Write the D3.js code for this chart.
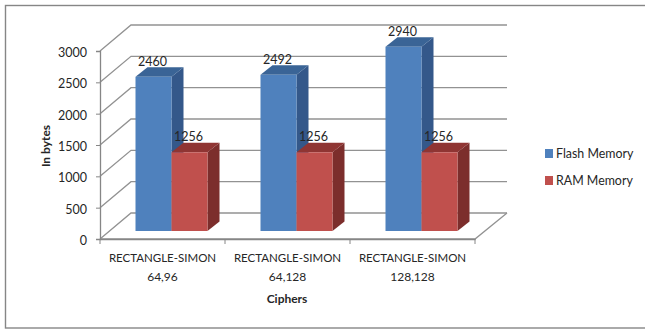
<!DOCTYPE html>
<html>
<head>
<meta charset="utf-8">
<script src="https://cdn.jsdelivr.net/npm/d3@7/dist/d3.min.js"></script>
<style>
html, body { margin: 0; padding: 0; background: #fff; overflow: hidden; }
svg { display: block; }
text { font-family: Lato, "Open Sans", sans-serif; fill: #262626; }
</style>
</head>
<body>
<svg id="chart" width="645" height="330"></svg>
<script>
// Memory footprint of the cipher variants
const categories = ["64,96", "64,128", "128,128"];
const categoryPrefix = "RECTANGLE-SIMON";
const flashValues = [2460, 2492, 2940];
const ramValues = [1256, 1256, 1256];
const seriesNames = ["Flash Memory", "RAM Memory"];
const yTicks = [0, 500, 1000, 1500, 2000, 2500, 3000];

const svg = d3.select("#chart");

// Projection of the 3D box: floor depth and bar depth, as screen offsets
const wallDx = 31, wallDy = -26;
const barDx = 12, barDy = -9.5;
const barFloorDy = -8;

const x = d3.scaleBand().domain(categories).range([100, 475]);
const y = d3.scaleLinear().domain([0, 3000]).range([239, 51]);
const inner = d3.scaleBand().domain(seriesNames).range([35.5, 107.5]);

const palette = {
  "Flash Memory": { front: "#4f81bd", side: "#34588a", top: "#3a6496" },
  "RAM Memory": { front: "#c0504d", side: "#7c2e2c", top: "#8f3533" }
};

// Outer frame; its right side runs past the canvas edge
svg.append("rect")
  .attr("x", 5.5).attr("y", 5.5)
  .attr("width", 660).attr("height", 322.5)
  .attr("fill", "#fff").attr("stroke", "#868686").attr("stroke-width", 1.4);

// Back wall gridlines with their diagonal returns along the side wall
const grid = svg.append("g").attr("fill", "none").attr("stroke", "#929292").attr("stroke-width", 1.3);
yTicks.forEach(t => {
  const line = d3.line()([
    [x.range()[0], y(t)],
    [x.range()[0] + wallDx, y(t) + wallDy],
    [x.range()[1] + wallDx + 1, y(t) + wallDy]
  ]);
  grid.append("path").attr("d", line);
});

// Front floor edge and its diagonal return on the right
grid.append("path").attr("d", d3.line()([
  [x.range()[0], y(0)],
  [x.range()[1], y(0)],
  [x.range()[1] + wallDx + 1, y(0) + wallDy]
]));

// Axes
const yAxis = svg.append("g")
  .attr("transform", `translate(${x.range()[0]},0)`)
  .call(d3.axisLeft(y).tickValues(yTicks).tickSize(4).tickPadding(9).tickFormat(d3.format("d")));
const xAxis = svg.append("g")
  .attr("transform", `translate(0,${y(0)})`)
  .call(d3.axisBottom(x).tickSize(0).tickFormat(""));

[yAxis, xAxis].forEach(g => {
  g.selectAll(".domain").attr("stroke", "#868686").attr("stroke-width", 1.3);
  g.selectAll(".tick line").attr("stroke", "#868686");
});
yAxis.selectAll("text")
  .attr("font-size", 12.5)
  .attr("dy", "0.45em")
  .style("font-family", "Lato, sans-serif")
  .attr("fill", "#333");

// Category boundary ticks on the floor edge
svg.append("g").selectAll("line")
  .data([...categories.map(c => x(c)), x.range()[1]])
  .join("line")
  .attr("x1", d => d).attr("x2", d => d)
  .attr("y1", y(0)).attr("y2", y(0) + 5)
  .attr("stroke", "#868686");

// Category labels on two lines
const catLabels = svg.append("g").selectAll("text")
  .data(categories).join("text")
  .attr("text-anchor", "middle")
  .attr("font-size", 11.5)
  .attr("fill", "#333");
catLabels.append("tspan")
  .attr("x", d => x(d) + x.bandwidth() / 2).attr("y", 262)
  .text(categoryPrefix);
catLabels.append("tspan")
  .attr("x", d => x(d) + x.bandwidth() / 2).attr("y", 281)
  .attr("font-size", 12)
  .text(d => d);

// Three-faced bars
const rows = [
  { name: seriesNames[0], values: flashValues },
  { name: seriesNames[1], values: ramValues }
];
const baseY = y(0) + barFloorDy;
const bars = svg.append("g");
rows.forEach(s => {
  const c = palette[s.name];
  const w = inner.bandwidth();
  s.values.forEach((v, i) => {
    const x0 = x(categories[i]) + inner(s.name);
    const top = y(v) + barFloorDy;
    const g = bars.append("g");
    g.append("path").attr("fill", c.side).attr("d", d3.line()([
      [x0 + w, top], [x0 + w + barDx, top + barDy],
      [x0 + w + barDx, baseY + barDy], [x0 + w, baseY]
    ]) + "Z");
    g.append("path").attr("fill", c.top).attr("d", d3.line()([
      [x0, top], [x0 + barDx, top + barDy],
      [x0 + w + barDx, top + barDy], [x0 + w, top]
    ]) + "Z");
    g.append("rect").attr("fill", c.front)
      .attr("x", x0).attr("y", top)
      .attr("width", w).attr("height", baseY - top);
  });
});

// Value labels sit over the bar tops
const labels = svg.append("g").attr("text-anchor", "middle").attr("font-size", 12.5);
rows.forEach(s => {
  s.values.forEach((v, i) => {
    labels.append("text")
      .attr("x", x(categories[i]) + inner(s.name) + inner.bandwidth() / 2 - 1)
      .attr("y", y(v) + barFloorDy - 11)
      .attr("fill", "#222")
      .text(v);
  });
});

// Axis titles
svg.append("text")
  .attr("x", 287).attr("y", 303)
  .attr("text-anchor", "middle")
  .attr("font-size", 12).attr("font-weight", 700)
  .attr("fill", "#222")
  .text("Ciphers");
svg.append("text")
  .attr("transform", "translate(50,146) rotate(-90)")
  .attr("text-anchor", "middle")
  .attr("font-size", 12).attr("font-weight", 700)
  .attr("fill", "#222")
  .text("In bytes");

// Legend
const legend = svg.append("g").selectAll("g")
  .data(seriesNames).join("g")
  .attr("transform", (d, i) => `translate(545,${149 + i * 27})`);
legend.append("rect")
  .attr("width", 8).attr("height", 9)
  .attr("fill", d => palette[d].front);
legend.append("text")
  .attr("x", 11).attr("y", 9)
  .attr("font-size", 12.4)
  .attr("fill", "#333")
  .text(d => d);
</script>
</body>
</html>
